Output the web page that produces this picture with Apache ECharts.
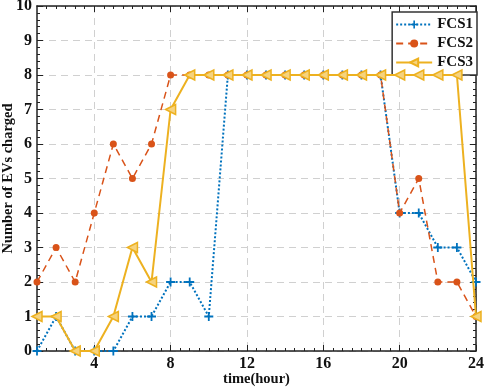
<!DOCTYPE html>
<html>
<head>
<meta charset="utf-8">
<script src="https://cdn.jsdelivr.net/npm/echarts@6/dist/echarts.min.js"></script>
<style>
html,body{margin:0;padding:0;background:#fff;}
#chart{width:484px;height:392px;}
</style>
</head>
<body>
<div id="chart"></div>
<script>
// hours 1..24
const hours = [1,2,3,4,5,6,7,8,9,10,11,12,13,14,15,16,17,18,19,20,21,22,23,24];
const fcs1 = [0,1,0,0,0,1,1,2,2,1,8,8,8,8,8,8,8,8,8,4,4,3,3,2];
const fcs2 = [2,3,2,4,6,5,6,8,8,8,8,8,8,8,8,8,8,8,8,4,5,2,2,1];
const fcs3 = [1,1,0,0,1,3,2,7,8,8,8,8,8,8,8,8,8,8,8,8,8,8,8,1];
const xTicks = [4,8,12,16,20,24];
const xMinor = [];
for (let v = 1.5; v < 24; v += 0.5) { if (v % 4 !== 0) xMinor.push(v); }

const FONT = '"Liberation Serif", "Times New Roman", serif';
const pair = (a, b) => a.map((v, i) => [v, b[i]]);

const myChart = echarts.init(document.getElementById('chart'));
const gridGray = '#d0d0d0';
function xAx(pos, minor, main) {
    return {
        type: 'value', position: pos, min: 1, max: 24,
        axisLine: {show: !minor, onZero: false, lineStyle: {color: '#222', width: 1.5}},
        axisTick: {show: true, inside: true, length: minor ? 3 : 6,
            customValues: minor ? xMinor : xTicks,
            lineStyle: {color: '#222', width: 1}},
        axisLabel: {show: main, customValues: xTicks, color: '#111', fontFamily: FONT,
            fontWeight: 'bold', fontSize: 16, margin: 5},
        splitLine: {show: main, lineStyle: {color: gridGray, type: [7, 5], width: 1}},
        name: main ? 'time(hour)' : '', nameLocation: 'middle', nameGap: 21, nameMoveOverlap: false,
        nameTextStyle: {color: '#111', fontFamily: FONT, fontWeight: 'bold', fontSize: 14.5}
    };
}
function yAx(pos, main) {
    return {
        type: 'value', position: pos, min: 0, max: 10, interval: 1,
        axisLine: {show: true, onZero: false, lineStyle: {color: '#222', width: 1.5}},
        axisTick: {show: true, inside: true, length: 6, lineStyle: {color: '#222', width: 1}},
        minorTick: {show: true, splitNumber: 5, length: 3, lineStyle: {color: '#222', width: 1}},
        axisLabel: {show: main, color: '#111', fontFamily: FONT, fontWeight: 'bold', fontSize: 16, margin: 5},
        splitLine: {show: main, lineStyle: {color: gridGray, type: [7, 5], width: 1}},
        name: main ? 'Number of EVs charged' : '', nameLocation: 'middle', nameGap: 21, nameMoveOverlap: false,
        nameTextStyle: {color: '#111', fontFamily: FONT, fontWeight: 'bold', fontSize: 14.5}
    };
}

const option = {
    animation: false,
    backgroundColor: '#fff',
    grid: {left: 37, right: 8, top: 6, bottom: 41, containLabel: false, outerBoundsMode: 'none'},
    legend: {
        orient: 'vertical', right: 7, top: 12,
        backgroundColor: '#fff', borderColor: '#333', borderWidth: 1.5, borderRadius: 0,
        padding: [5, 4, 5, 3], itemGap: 4, itemWidth: 36, itemHeight: 10,
        textStyle: {color: '#111', fontFamily: FONT, fontWeight: 'bold', fontSize: 15},
        data: ['FCS1', 'FCS2', 'FCS3']
    },
    xAxis: [xAx('bottom', false, true), xAx('bottom', true, false), xAx('top', false, false), xAx('top', true, false)],
    yAxis: [yAx('left', true), yAx('right', false)],
    series: [{
        name: 'FCS1', type: 'line', data: pair(hours, fcs1),
        symbol: 'path://M4,0H6V4H10V6H6V10H4V6H0V4H4Z', symbolSize: 9,
        lineStyle: {color: '#0072BD', width: 2, type: [2, 2]},
        itemStyle: {color: '#0072BD'}, z: 2
    }, {
        name: 'FCS2', type: 'line', data: pair(hours, fcs2),
        symbol: 'circle', symbolSize: 7,
        lineStyle: {color: '#D95319', width: 1.5, type: [7, 5]},
        itemStyle: {color: '#D95319'}, z: 3
    }, {
        name: 'FCS3', type: 'line', data: pair(hours, fcs3),
        symbol: 'path://M0,5L10,0L10,10Z', symbolSize: 10,
        lineStyle: {color: '#EDB120', width: 2},
        itemStyle: {color: '#F6D37E', borderColor: '#EDB120', borderWidth: 1.5}, z: 4
    }]
};
myChart.setOption(option);
</script>
</body>
</html>
